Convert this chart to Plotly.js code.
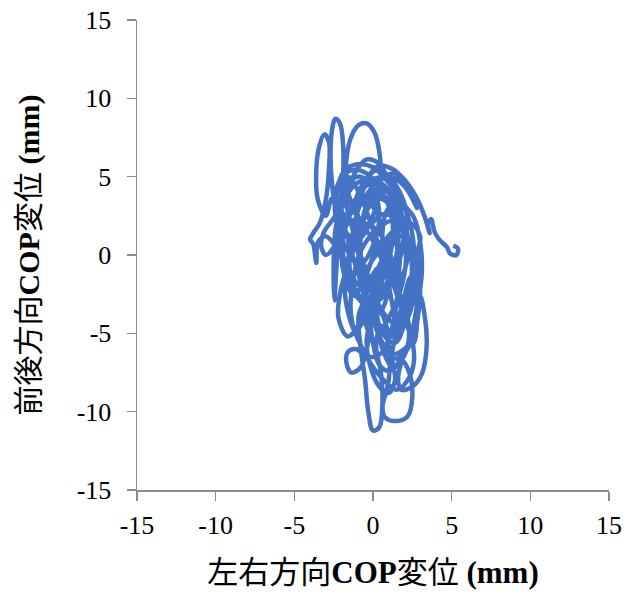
<!DOCTYPE html>
<html>
<head>
<meta charset="utf-8">
<script src="https://cdn.plot.ly/plotly-3.0.1.min.js"></script>
<style>html,body{margin:0;padding:0;background:#fff;}#chart{width:631px;height:608px;}</style>
</head>
<body>
<div id="chart"></div>
<script>
// COP trajectory (mm)
const copX = [
  5.1,5.4,5.3,4.9,4.7,4.2,3.9,3.7,3.5,3.6,3.3,2.8,2.0,1.2,0.4,
  -0.3,-0.8,-1.2,-1.5,-1.3,-0.6,0.4,1.2,1.6,1.4,0.7,-0.2,-0.9,-1.1,-0.7,0.0,0.9,1.8,2.4,2.6,2.3,1.7,1.0,0.3,-0.4,-1.0,
  -1.6,-2.1,-2.6,-3.1,-3.3,-3.0,-2.5,-2.0,-1.4,-0.6,0.2,0.6,0.5,0.0,-0.6,-1.1,-1.4,-1.3,-0.8,0.2,1.3,2.2,2.7,2.9,2.7,2.0,1.1,0.4,0.1,0.4,1.0,1.6,
  1.2,0.5,-0.2,-0.8,-1.3,-1.7,-1.7,-1.4,-0.9,-0.4,0.1,0.4,0.5,0.3,-0.2,-0.9,-1.7,-2.3,-2.6,-2.7,-2.6,-2.4,-2.1,-1.9,-1.9,-2.1,-2.4,-2.5,-2.45,-2.35,-2.2,-1.9,
  -2.6,-3.0,-3.5,-3.6,-3.4,-3.1,-2.8,-2.8,-3.0,-3.4,-3.8,-4.0,-3.8,-3.6,-3.5,-3.0,-2.2,
  -1.5,-0.8,0.2,1.0,1.4,1.1,0.4,-0.4,-0.8,-0.6,-0.1,0.6,1.4,2.2,2.8,3.0,2.8,
  3.0,2.4,1.8,1.6,1.3,
  0.6,-0.3,-1.1,-1.6,-1.7,-1.4,-0.8,-0.4,-0.2,-0.5,-0.9,-0.8,-0.5,-0.3,0.0,0.4,0.6,0.5,0.2,0.5,1.0,1.0,0.6,0.8,1.5,2.2,2.5,2.3,1.9,1.6,1.8,2.5,3.1,3.4,3.3,2.9,2.1,1.6,1.2,0.8,0.2,-0.6,-1.4,-1.9,-1.8,-1.2,-0.4,0.5,1.3,1.9,2.2,1.8,1.0,0.2,-0.6,-1.1,-0.8,0.0,0.8,1.2,1.0,0.5,-0.2,-0.6,-0.3,0.5,1.2,1.6,1.5,
  1.9,2.4,2.6,2.2,1.5,0.7,-0.1,-0.9,-1.5,-1.8,-1.4,-0.6,0.3,1.1,1.8,2.1,1.7,0.9,0.1,-0.5,-0.3,0.4,1.2,1.9,2.3,2.0,1.3,0.6,0.3,
  -0.4,-1.0,-1.6,-2.0,-1.6,-0.8,0.0,0.4,0.0,
  -0.8,-1.6,-2.2,-2.3,-1.8,-1.0,0.0,1.0,1.8,2.6,
  3.0,3.1,2.8,2.4,1.8,1.0,0.4,0.0,-0.2,0.2,
  1.0,1.8,2.4,2.4,2.0,1.4,0.6,0.2,0.6,1.4,
  1.6,0.9,0.0,-0.6,-1.2,-2.0,-2.2,-1.6,-0.8,-0.6,
  -1.0,-1.8,-2.4,-2.2,-1.4,-0.4,0.6,1.2,1.2,0.6,
  0.0,-0.4,-0.2,0.4,1.0,1.4,1.2,1.6,2.2,2.6,
  2.4,1.8,1.0,0.6,0.8,1.4,2.0,2.2,1.6,0.6,
  -0.4,-1.2,-1.6,-1.0,-0.2,0.6,1.4,2.2,2.8,
  2.0,1.0,0.0,-0.8,-1.6,-2.0,-1.8,-1.2,-0.4,0.4,
  1.0,1.6,2.2,2.6,2.8,2.4,1.8,1.2,0.6,-0.2,
  -1.0,-1.6,-2.0,-1.6,-0.8,0.0,0.8,1.4,2.0,2.4
];
const copY = [
  0.6,0.4,0.0,0.1,0.5,1.0,1.5,2.3,2.0,1.4,2.4,3.6,4.8,5.5,5.7,
  5.0,3.5,1.8,0.0,-1.8,-2.8,-2.5,-1.0,0.8,2.6,3.8,4.0,3.0,1.2,-0.8,-2.5,-4.0,-4.6,-3.5,-1.5,0.8,3.0,4.8,5.9,6.1,5.5,
  4.2,3.0,2.2,1.5,0.6,0.0,0.5,1.8,3.0,3.4,2.8,1.2,-0.8,-2.8,-4.2,-4.8,-3.8,-1.8,0.2,1.6,2.2,1.2,-0.6,-2.8,-4.8,-6.0,-6.3,-5.2,-3.2,-1.0,1.0,2.4,
  3.8,4.6,4.6,4.0,3.4,4.5,6.0,7.5,8.3,8.4,7.8,6.6,5.2,3.6,2.0,1.0,1.4,2.6,4.5,6.5,8.0,8.7,8.4,7.0,5.2,3.2,1.5,-0.5,-2.9,-1.2,0.8,2.6,
  3.6,2.5,3.5,5.5,7.0,7.7,7.2,5.5,3.5,2.0,1.4,1.0,0.7,-0.5,0.8,1.2,0.3,
  -1.0,-2.0,-1.6,0.2,2.0,3.8,4.3,3.2,1.0,-1.5,-3.8,-5.6,-6.6,-6.0,-4.2,-2.0,0.0,
  1.2,2.0,0.4,-2.0,-4.3,
  -6.2,-6.5,-6.0,-6.2,-6.8,-7.5,-7.2,-6.0,-4.5,-3.0,-3.8,-5.8,-8.0,-10.0,-11.2,-11.0,-9.5,-7.5,-5.8,-4.5,-5.8,-8.0,-9.8,-10.4,-10.6,-10.3,-9.0,-7.5,-6.8,-7.8,-8.6,-8.4,-7.6,-6.0,-4.0,-2.5,-3.5,-5.0,-3.0,-1.0,0.5,1.8,2.2,1.2,-0.6,-2.4,-3.2,-2.8,-1.5,0.5,2.2,3.8,5.0,5.4,4.6,3.4,2.2,1.8,0.8,-0.5,-2.2,-3.6,-4.0,-2.6,-0.8,0.4,1.4,0.0,-1.8,
  -3.6,-5.0,-6.8,-8.0,-8.6,-8.0,-7.0,-5.5,-4.0,-2.0,0.5,2.5,3.6,3.2,1.8,-0.2,-2.4,-4.2,-5.4,-4.2,-2.0,-0.8,-1.6,-3.0,-4.8,-6.4,-7.2,-6.0,-4.5,
  -3.0,-1.0,1.0,3.0,4.6,5.0,4.2,2.5,0.6,
  -0.6,0.2,2.0,4.0,5.4,5.8,5.6,4.6,3.4,2.4,
  0.8,-1.2,-3.2,-5.2,-6.6,-7.4,-7.0,-5.6,-3.4,-1.2,
  0.4,1.2,0.0,-2.2,-4.4,-5.6,-5.0,-3.0,-0.6,1.8,
  3.6,4.2,3.6,2.2,0.4,-2.0,-4.0,-5.2,-4.2,-2.6,
  -0.8,0.6,2.6,4.6,5.4,5.2,4.0,2.4,0.6,-1.6,
  -3.6,-5.4,-7.0,-8.4,-8.8,-8.0,-6.4,-4.6,-2.6,-0.4,
  1.8,3.2,3.0,1.4,-0.4,-2.0,-1.0,0.8,2.2,2.6,
  1.8,2.8,3.8,4.6,4.8,5.0,5.2,4.2,3.0,
  4.4,5.0,4.4,3.2,2.4,0.6,-1.4,-2.6,-1.2,0.8,
  -0.6,-2.8,-4.6,-5.6,-3.6,-1.4,-3.4,-5.2,-3.8,-1.6,
  0.6,2.8,4.2,5.0,3.8,1.6,-0.4,-2.2,-3.6,-2.0
];
const tickVals = [-15,-10,-5,0,5,10,15];
const xTitle = '左右方向<b>COP</b>変位 <b>(mm)</b>';
const yTitle = '前後方向<b>COP</b>変位 <b>(mm)</b>';

const fontFam = '"Liberation Serif", "Times New Roman", "Noto Sans CJK JP", serif';
const axisColor = '#8c8c8c';

Plotly.newPlot('chart', [{
  x: copX, y: copY,
  type: 'scatter', mode: 'lines',
  line: {color: '#4472C4', width: 4.5, shape: 'spline', smoothing: 1},
  hoverinfo: 'skip'
}], {
  width: 631, height: 608,
  margin: {l: 137, r: 22, t: 20, b: 118},
  paper_bgcolor: '#ffffff', plot_bgcolor: '#ffffff',
  showlegend: false,
  font: {family: fontFam, color: '#000000', size: 26},
  xaxis: {
    range: [-15, 15], tickvals: tickVals, ticktext: tickVals.map(String),
    showgrid: false, zeroline: false, showline: true, linecolor: axisColor, linewidth: 1.5,
    ticks: 'outside', ticklen: 9, tickcolor: axisColor, tickwidth: 1.5,
    ticklabelstandoff: 2,
    tickfont: {family: fontFam, size: 26, color: '#000'},
    title: {text: xTitle, font: {family: fontFam, size: 31, color: '#000'}, standoff: 22}
  },
  yaxis: {
    range: [-15, 15], tickvals: tickVals, ticktext: tickVals.map(String),
    showgrid: false, zeroline: false, showline: true, linecolor: axisColor, linewidth: 1.5,
    ticks: 'outside', ticklen: 9, tickcolor: axisColor, tickwidth: 1.5,
    ticklabelstandoff: 10,
    tickfont: {family: fontFam, size: 26, color: '#000'},
    title: {text: yTitle, font: {family: fontFam, size: 30, color: '#000'}, standoff: 28}
  }
}, {staticPlot: true});
</script>
</body>
</html>
